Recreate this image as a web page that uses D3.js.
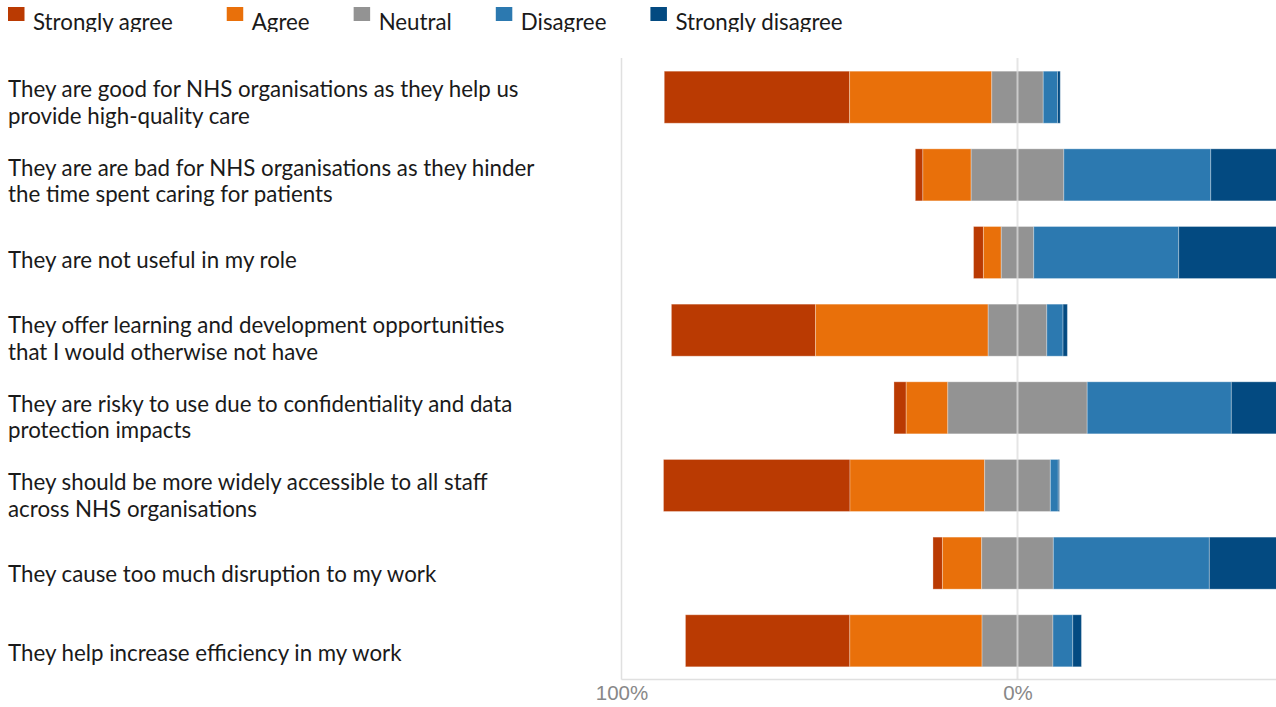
<!DOCTYPE html>
<html>
<head>
<meta charset="utf-8">
<script src="https://cdn.jsdelivr.net/npm/d3@7"></script>
<style>
  html, body { margin: 0; padding: 0; background: #ffffff; overflow: hidden; }
  svg { display: block; }
</style>
</head>
<body>
<svg id="chart" width="1276" height="707"></svg>
<script>
// Survey statements (line breaks mark where each label wraps)
const categories = [
  "They are good for NHS organisations as they help us\nprovide high-quality care",
  "They are are bad for NHS organisations as they hinder\nthe time spent caring for patients",
  "They are not useful in my role",
  "They offer learning and development opportunities\nthat I would otherwise not have",
  "They are risky to use due to confidentiality and data\nprotection impacts",
  "They should be more widely accessible to all staff\nacross NHS organisations",
  "They cause too much disruption to my work",
  "They help increase efficiency in my work"
];

const responses = ["Strongly agree", "Agree", "Neutral", "Disagree", "Strongly disagree"];

// Share of respondents (%) per statement
const stronglyAgree    = [46.8,  1.9,  2.5, 36.4,  3.1, 47.1,  2.4, 41.5];
const agree            = [35.9, 12.2,  4.5, 43.6, 10.5, 34.0,  9.9, 33.4];
const neutral          = [13.0, 23.4,  8.2, 14.8, 35.2, 16.6, 18.1, 17.9];
const disagree         = [ 3.6, 37.1, 36.6,  4.1, 36.4,  2.0, 39.4,  5.0];
const stronglyDisagree = [ 0.7, 25.4, 48.2,  1.1, 14.8,  0.3, 30.2,  2.2];

const tickValues = [-100, 0];
const tickLabels = ["100%", "0%"];

const colors = ["#BA3A02", "#E9700A", "#939393", "#2C79B0", "#034A81"];

const series = [stronglyAgree, agree, neutral, disagree, stronglyDisagree];

const W = 1276, H = 707;
const svg = d3.select("#chart");

const labelFont = "Lato, 'Open Sans', sans-serif";
const labelSize = 22.3;

// Diverging layout: neutral straddles zero, agreement to the left
const rows = categories.map((c, i) => {
  const vals = series.map(s => s[i]);
  let x0 = -(vals[0] + vals[1] + vals[2] / 2);
  const segs = vals.map((v, k) => {
    const seg = { cat: c, key: responses[k], k, start: x0, end: x0 + v, value: v };
    x0 += v;
    return seg;
  });
  return { cat: c, segs };
});

const x = d3.scaleLinear().domain([-100, 100]).range([621.5, 1413.5]);
const y = d3.scaleBand().domain(categories).range([59, 679]).paddingInner(0.33).paddingOuter(0.157);
const labelY = d3.scalePoint().domain(categories).range([110.5, 661]);
const color = d3.scaleOrdinal().domain(responses).range(colors);

// Grid lines and baseline
const grid = svg.append("g");
grid.append("line")
  .attr("x1", x(-100)).attr("x2", x(-100))
  .attr("y1", 58).attr("y2", 679.5)
  .attr("stroke", "#e0e0e0").attr("stroke-width", 1.5);
grid.append("line")
  .attr("x1", x(-100)).attr("x2", W)
  .attr("y1", 679.5).attr("y2", 679.5)
  .attr("stroke", "#e0e0e0").attr("stroke-width", 1.5);

// Bars
const barG = svg.append("g");
rows.forEach(r => {
  barG.selectAll(null)
    .data(r.segs)
    .enter().append("rect")
    .attr("x", d => x(d.start))
    .attr("y", y(r.cat))
    .attr("width", d => Math.max(0, x(d.end) - x(d.start)))
    .attr("height", y.bandwidth())
    .attr("fill", d => color(d.key))
    .attr("stroke", "rgba(255,255,255,0.3)")
    .attr("stroke-width", 1);
});

// Zero line sits over the bars
svg.append("line")
  .attr("x1", x(0)).attr("x2", x(0))
  .attr("y1", 58).attr("y2", 679.5)
  .attr("stroke", "#dcdcdc").attr("stroke-opacity", 0.75).attr("stroke-width", 2);

// Axis tick labels
const xAxis = d3.axisBottom(x).tickValues(tickValues).tickFormat((d, i) => tickLabels[i]).tickSize(0).tickPadding(0);
const axisG = svg.append("g").attr("transform", "translate(0,700)").call(xAxis);
axisG.select(".domain").remove();
axisG.selectAll("text")
  .attr("y", 0)
  .attr("dy", 0)
  .attr("font-family", "'Liberation Sans', Arial, sans-serif")
  .attr("font-size", 20.5)
  .attr("fill", "#888888");

// Statement labels
const labG = svg.append("g");
categories.forEach(c => {
  const lines = c.split("\n");
  const t = labG.append("text")
    .attr("font-family", labelFont)
    .attr("font-size", labelSize)
    .attr("fill", "#1a1a1a");
  const first = labelY(c) - (lines.length - 1) * 13.25;
  lines.forEach((ln, j) => {
    t.append("tspan").attr("x", 8).attr("y", first + j * 26.5).text(ln);
  });
});

// Legend (clipped along its lower edge)
svg.append("defs").append("clipPath").attr("id", "legendClip")
  .append("rect").attr("x", 0).attr("y", 0).attr("width", W).attr("height", 32);
const leg = svg.append("g").attr("clip-path", "url(#legendClip)");
let lx = 8;
responses.forEach((r, i) => {
  leg.append("rect").attr("x", lx).attr("y", 7).attr("width", 16.5).attr("height", 14).attr("fill", color(r));
  const t = leg.append("text")
    .attr("x", lx + 25).attr("y", 30)
    .attr("font-family", labelFont)
    .attr("font-size", labelSize)
    .attr("fill", "#1a1a1a")
    .text(r);
  lx = lx + 25 + t.node().getComputedTextLength() + (i === 0 ? 54 : 44);
});
</script>
</body>
</html>
